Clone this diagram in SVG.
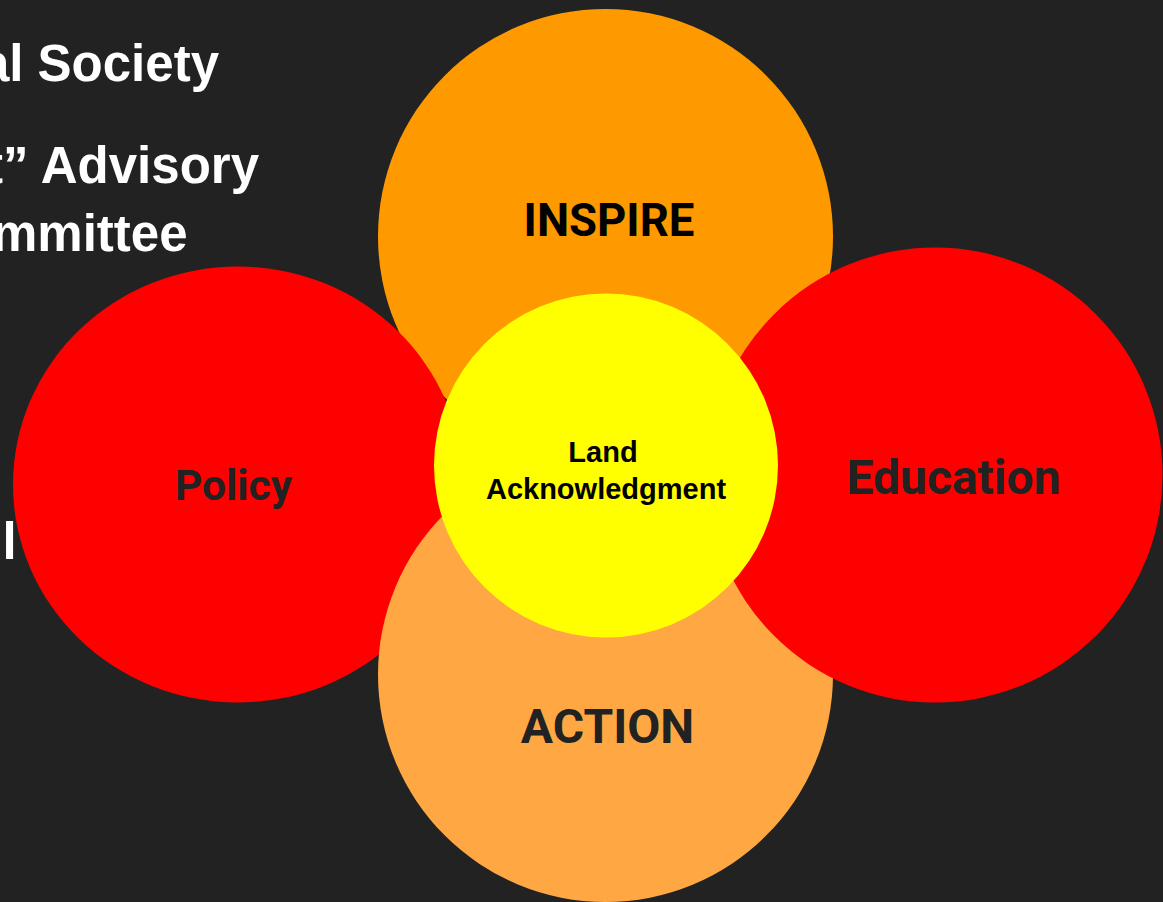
<svg xmlns="http://www.w3.org/2000/svg" width="1163" height="902" viewBox="0 0 1163 902">
  <style>
    .side { font-family: "Liberation Sans", Arial, sans-serif; font-weight: 700; font-size: 51px; fill: #ffffff; }
    .lbl { font-family: Roboto, "Liberation Sans", sans-serif; font-weight: 700; text-anchor: middle; fill: #222222; }
    .center { font-family: "Liberation Sans", Arial, sans-serif; font-weight: 700; font-size: 29px; text-anchor: middle; fill: #000000; }
  </style>
  <rect x="0" y="0" width="1163" height="902" fill="#222222"/>
  <g id="side-text">
    <text class="side" x="219" y="81" text-anchor="end">al Society</text>
    <text class="side" x="259" y="183" text-anchor="end">t” Advisory</text>
    <text class="side" x="187.5" y="251" text-anchor="end">mmittee</text>
    <text class="side" x="2.6" y="558.5">l</text>
  </g>
  <g id="inspire">
    <circle cx="605.5" cy="236.5" r="227.5" fill="#ff9900"/>
    <text class="lbl" x="609" y="236" font-size="45.5" style="fill:#000000">INSPIRE</text>
  </g>
  <g id="policy">
    <ellipse cx="238" cy="484.5" rx="225" ry="218" fill="#ff0000"/>
    <text class="lbl" x="233.5" y="500" font-size="42.5">Policy</text>
  </g>
  <g id="action">
    <circle cx="605.5" cy="674.5" r="227.5" fill="#ffa843"/>
    <text class="lbl" x="607.5" y="743" font-size="48">ACTION</text>
  </g>
  <g id="education">
    <circle cx="935" cy="475" r="227.5" fill="#ff0000"/>
    <text class="lbl" x="953.5" y="494" font-size="48">Education</text>
  </g>
  <g id="land-acknowledgment">
    <circle cx="606" cy="465.5" r="172" fill="#ffff00"/>
    <text class="center" x="603" y="461.5">Land</text>
    <text class="center" x="606" y="499">Acknowledgment</text>
  </g>
</svg>
